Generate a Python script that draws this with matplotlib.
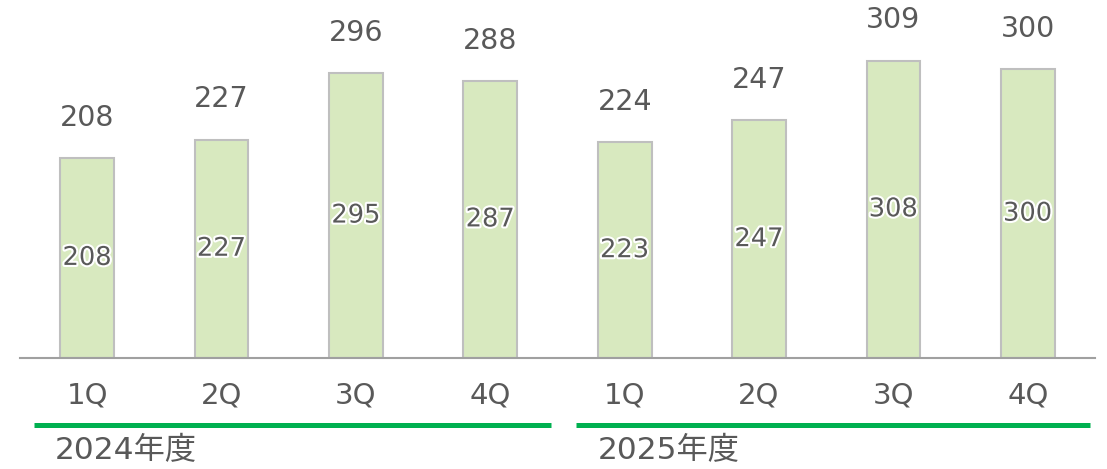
import matplotlib
matplotlib.use("Agg")
import matplotlib.pyplot as plt
import matplotlib.patheffects as pe
from matplotlib.transforms import blended_transform_factory

quarters = ["1Q", "2Q", "3Q", "4Q", "1Q", "2Q", "3Q", "4Q"]
top_values = [208, 227, 296, 288, 224, 247, 309, 300]
inner_values = [208, 227, 295, 287, 223, 247, 308, 300]
years = ["2024年度", "2025年度"]

W, H = 1107, 469
fig = plt.figure(figsize=(W / 100, H / 100), dpi=100)
ax = fig.add_axes([20 / W, (H - 358) / H, 1075 / W, 358 / H])

text_color = "#595959"
x = list(range(len(quarters)))
ax.bar(x, top_values, width=0.40, color="#d8e9bf", edgecolor="#bfbfbf", linewidth=1.5, zorder=2)
ax.set_xlim(-0.5, len(quarters) - 0.5)
ax.set_ylim(0, 372)

for s in ["top", "right", "left"]:
    ax.spines[s].set_visible(False)
ax.spines["bottom"].set_color("#a0a0a0")
ax.spines["bottom"].set_linewidth(1.5)
ax.set_yticks([])
ax.set_xticks(x)
ax.set_xticklabels(quarters, fontsize=21, color=text_color, family="DejaVu Sans")
ax.tick_params(axis="x", length=0, pad=17)

for xi, tv, iv in zip(x, top_values, inner_values):
    ax.annotate(str(tv), (xi, tv), xytext=(0, 29), textcoords="offset points",
                ha="center", va="center", fontsize=20.5, color=text_color, family="DejaVu Sans")
    ax.text(xi, tv / 2, str(iv), ha="center", va="center", fontsize=18.5, color=text_color,
            family="DejaVu Sans", zorder=3,
            path_effects=[pe.withStroke(linewidth=3, foreground="white")])

trans = blended_transform_factory(fig.transFigure, fig.transFigure)
segments = [(34, 551), (576, 1090)]
label_x = [55, 598]
for (x0, x1), lx, yl in zip(segments, label_x, years):
    fig.add_artist(plt.Line2D([x0 / W, x1 / W], [(H - 424.5) / H] * 2, color="#00b050",
                              linewidth=3.6, transform=trans, solid_capstyle="butt"))
    fig.text(lx / W, (H - 450) / H, yl, ha="left", va="center", fontsize=22.5, color=text_color,
             family=["DejaVu Sans", "Noto Sans CJK JP"])

fig.savefig("out.png", dpi=100)
